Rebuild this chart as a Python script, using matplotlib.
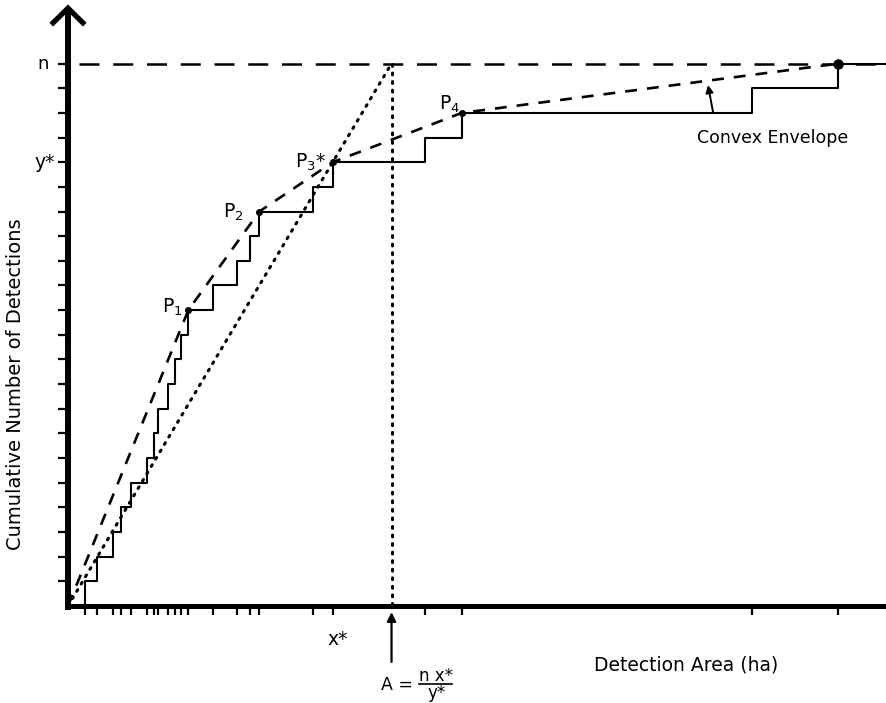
import matplotlib
matplotlib.use("Agg")
import matplotlib.pyplot as plt

# ---- data (detection area in arbitrary ha units, cumulative detections) ----
step_x = [2.08, 3.51, 5.50, 6.48, 7.67, 9.69, 10.51, 11.04, 12.19, 13.08, 13.81,
          14.71, 17.69, 20.62, 22.25, 23.39, 29.91, 32.36, 43.64, 48.13, 83.65, 94.16]
step_y = list(range(1, len(step_x) + 1))
hull_idx = [12, 16, 18, 20, 22]          # detection numbers of hull vertices
hull_labels = ["P$_1$", "P$_2$", "P$_3$*", "P$_4$"]
n_total = 22
y_star = 18

plt.rcParams['font.family'] = ['DejaVu Sans']
plt.rcParams['mathtext.fontset'] = 'dejavusans'

fig = plt.figure(figsize=(8.86, 7.03), dpi=100)
ax = fig.add_axes([68/886, 97/703, 818/886, 606/703])
ax.set_xlim(0, 100)
ax.set_ylim(0, 24.58)
for s in ax.spines.values():
    s.set_visible(False)

# derived quantities
x_star = step_x[y_star - 1]
A = n_total * x_star / y_star

# step function
xs = [0] + step_x + [100]
ys = [0] + step_y + [step_y[-1]]
ax.step(xs, ys, where='post', color='black', lw=1.5, clip_on=False, zorder=3)

# convex envelope
hx = [0] + [step_x[i - 1] for i in hull_idx]
hy = [0] + [step_y[i - 1] for i in hull_idx]
ax.plot(hx, hy, color='black', lw=1.9, linestyle=(0, (4.5, 3.8)), zorder=4)
ax.plot(hx[1:-1], hy[1:-1], 'o', color='black', ms=4, zorder=5)
ax.plot([hx[-1]], [hy[-1]], 'o', color='black', ms=6.5, zorder=5, clip_on=False)

# horizontal dashed line at n
ax.plot([1.4, 100], [n_total, n_total], color='black', lw=1.8,
        linestyle=(0, (8, 5.5)), zorder=2, clip_on=False)

# dotted lines
dot = (0, (0.6, 2.2))
ax.plot([0, A], [0, n_total], color='black', lw=2.2, linestyle=dot,
        dash_capstyle='round', zorder=2)
ax.plot([A, A], [n_total, 0], color='black', lw=2.2, linestyle=dot,
        dash_capstyle='round', zorder=2)

# axes lines
ax.plot([0, 100], [0, 0], color='black', lw=3.6, clip_on=False, zorder=6,
        solid_capstyle='butt')
ax.plot([0, 0], [-0.15, 24.2], color='black', lw=4.3, clip_on=False, zorder=6,
        solid_capstyle='butt')
ax.plot([-2.05, 0, 2.05], [23.58, 24.25, 23.58], color='black', lw=3.8,
        clip_on=False, zorder=6, solid_joinstyle='miter', solid_capstyle='butt')

# ticks
ax.set_yticks(step_y)
ax.set_yticklabels([])
ax.set_xticks(step_x)
ax.set_xticklabels([])
ax.tick_params(axis='y', direction='out', length=7.5, width=1.6, color='black')
ax.tick_params(axis='x', direction='out', length=6.5, width=1.6, color='black')

# tick text labels
ax.text(-2.4, n_total, "n", ha='right', va='center', fontsize=13)
ax.text(-1.6, y_star, "y*", ha='right', va='center', fontsize=13.5)
ax.text(x_star + 0.6, -1.35, "x*", ha='center', va='center', fontsize=13.5,
        clip_on=False)

# hull point labels
label_pos = [(11.55, 11.9), (18.95, 15.75), (27.75, 17.77), (45.35, 20.12)]
for (lx, ly), lab in zip(label_pos, hull_labels):
    ax.text(lx, ly, lab, ha='left', va='baseline', fontsize=13.5)

# A arrow and formula  A = n x* / y*
ax.annotate("", xy=(A, -0.25), xytext=(A, -2.27),
            arrowprops=dict(arrowstyle='-|>', color='black', lw=1.6,
                            mutation_scale=13, shrinkA=0, shrinkB=0),
            annotation_clip=False)
ax.text(38.3, -3.2, "A =", ha='left', va='center', fontsize=12.5, clip_on=False)
ax.plot([42.9, 47.0], [-3.17, -3.17], color='black', lw=1.2, clip_on=False)
ax.text(44.95, -2.82, "n x*", ha='center', va='center', fontsize=12, clip_on=False)
ax.text(45.0, -3.53, "y*", ha='center', va='center', fontsize=12, clip_on=False)

# convex envelope label and arrow
ax.annotate("", xy=(78.24, 21.13), xytext=(78.85, 20.04),
            arrowprops=dict(arrowstyle='-|>', color='black', lw=1.4,
                            mutation_scale=11, shrinkA=0, shrinkB=0))
ax.text(86.1, 18.98, "Convex Envelope", ha='center', va='center', fontsize=12.5)

# axis titles
fig.text(16/886, 1 - 384/703, "Cumulative Number of Detections", rotation=90,
         ha='center', va='center', fontsize=14)
fig.text(686/886, 1 - 665/703, "Detection Area (ha)", ha='center', va='center',
         fontsize=13.5)

fig.savefig("out.png", dpi=100, facecolor='white')
